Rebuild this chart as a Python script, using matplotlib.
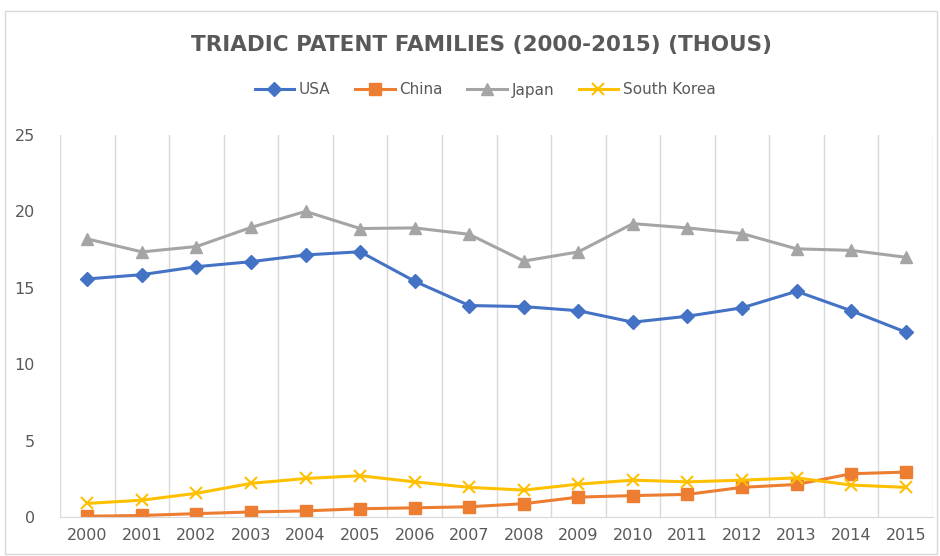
import numpy as np
import matplotlib.pyplot as plt
from matplotlib.patches import Rectangle

# ── 資料 ──────────────────────────────────────────────
years = [str(y) for y in range(2000, 2016)]
usa   = [15.58, 15.86, 16.38, 16.71, 17.15, 17.36, 15.43, 13.84,
         13.77, 13.50, 12.75, 13.14, 13.69, 14.77, 13.50, 12.10]
china = [0.05, 0.10, 0.22, 0.33, 0.40, 0.54, 0.60, 0.67,
         0.87, 1.30, 1.40, 1.48, 1.94, 2.13, 2.83, 2.94]
japan = [18.20, 17.35, 17.70, 18.95, 20.00, 18.88, 18.92, 18.50,
         16.75, 17.35, 19.20, 18.92, 18.55, 17.55, 17.45, 17.00]
korea = [0.89, 1.10, 1.55, 2.20, 2.52, 2.70, 2.30, 1.94,
         1.76, 2.15, 2.41, 2.30, 2.41, 2.56, 2.09, 1.94]

series = [
    ('USA',         usa,   '#4472C4', 'D', 7),
    ('China',       china, '#ED7D31', 's', 8.5),
    ('Japan',       japan, '#A5A5A5', '^', 9),
    ('South Korea', korea, '#FFC000', 'x', 9),
]

TEXT = '#595959'
GRID = '#D9D9D9'

fig = plt.figure(figsize=(9.4, 5.56), dpi=100)
ax = fig.add_axes([60/940, 1-517/556, (933-60)/940, (517-135)/556])

x = np.arange(len(years))
for name, vals, color, mk, ms in series:
    ax.plot(x, vals, color=color, lw=2.2, marker=mk, markersize=ms,
            markeredgewidth=1.5 if mk == 'x' else 1, label=name,
            solid_joinstyle='round')

ax.set_xlim(-0.5, len(years) - 0.5)
ax.set_ylim(0, 25)
ax.set_yticks(range(0, 26, 5))
ax.set_xticks(x)
ax.set_xticklabels(years)
ax.set_xticks(np.arange(-0.5, len(years)), minor=True)
ax.grid(axis='x', which='minor', color=GRID, lw=1)
ax.tick_params(axis='both', which='both', length=0, colors=TEXT)
ax.tick_params(axis='y', labelsize=11.5, pad=18)
ax.tick_params(axis='x', labelsize=11.5, pad=8)
for s in ['top', 'right', 'left']:
    ax.spines[s].set_visible(False)
ax.spines['bottom'].set_color(GRID)

# 標題
fig.text(0.512, 1-45/556, 'TRIADIC PATENT FAMILIES (2000-2015) (THOUS)',
         ha='center', va='center', fontsize=15.5, color=TEXT, fontweight='semibold')

fig.legend(loc='center', bbox_to_anchor=(0.516, 1-90/556), ncol=4, frameon=False,
           fontsize=11, labelcolor=TEXT, handlelength=2.6, columnspacing=1.6,
           handletextpad=0.3)

fig.patches.append(Rectangle((5/940, 2/556), 932/940, 543/556, transform=fig.transFigure,
                             fill=False, edgecolor=GRID, lw=1))

plt.savefig('out.png', dpi=100)
